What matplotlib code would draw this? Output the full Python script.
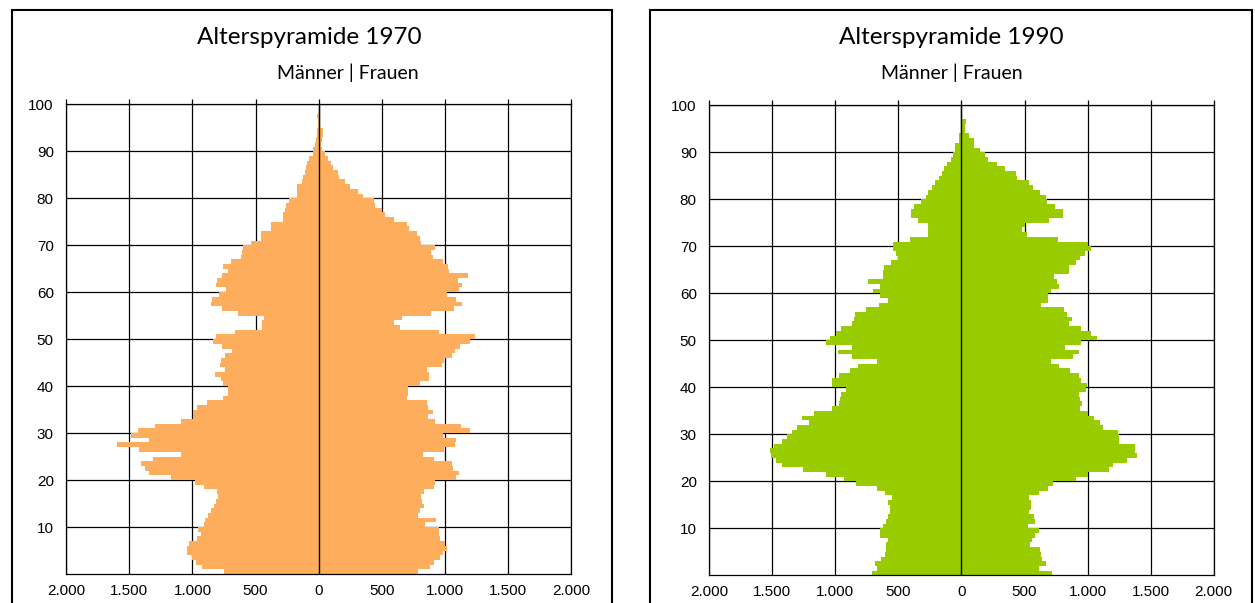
import numpy as np
import matplotlib
matplotlib.use("Agg")
import matplotlib.pyplot as plt
from matplotlib.patches import Rectangle

# Alter 0..99, Werte in Personen
ages = np.arange(100)

men_1970 = [753, 923, 976, 1003, 1045, 1040, 1029, 966, 929, 955,
            907, 897, 875, 854, 833, 817, 799, 807, 907, 981,
            1172, 1346, 1378, 1410, 1315, 1092, 1426, 1595, 1346, 1489,
            1431, 1299, 1087, 992, 992, 965, 882, 755, 718, 718,
            755, 776, 819, 745, 782, 776, 745, 683, 766, 840,
            813, 660, 447, 447, 437, 638, 766, 850, 845, 787,
            734, 813, 803, 766, 718, 761, 692, 616, 610, 600,
            540, 455, 455, 381, 381, 286, 286, 265, 259, 233,
            169, 169, 169, 132, 127, 106, 101, 90, 74, 48,
            48, 26, 21, 16, 11, 5, 5, 10, 0, 0]

women_1970 = [785, 886, 918, 960, 987, 1019, 1003, 960, 955, 950,
              844, 929, 791, 800, 838, 822, 812, 833, 918, 923,
              1087, 1114, 1061, 1055, 912, 828, 992, 1077, 1092, 987,
              1198, 1127, 924, 868, 910, 868, 857, 700, 712, 710,
              804, 876, 873, 862, 978, 990, 1055, 1080, 1118, 1200,
              1239, 955, 643, 596, 660, 891, 1070, 1134, 1086, 1015,
              1112, 1140, 1102, 1186, 1033, 1028, 982, 903, 893, 924,
              815, 805, 780, 715, 700, 600, 524, 503, 445, 439,
              349, 310, 249, 212, 164, 153, 116, 95, 74, 53,
              30, 20, 30, 37, 37, 10, 10, 10, 0, 0]

men_1990 = [711, 669, 685, 637, 606, 600, 600, 585, 648, 643,
            622, 600, 585, 564, 569, 585, 548, 606, 669, 838,
            928, 1078, 1255, 1421, 1470, 1511, 1519, 1487, 1423, 1385,
            1345, 1305, 1212, 1262, 1170, 1028, 970, 960, 955, 915,
            1024, 1024, 971, 886, 823, 669, 865, 976, 868, 1077,
            1039, 997, 955, 865, 849, 844, 759, 653, 585, 643,
            701, 648, 738, 622, 622, 616, 563, 500, 516, 542,
            542, 410, 267, 262, 267, 341, 400, 400, 373, 325,
            283, 262, 230, 209, 177, 151, 135, 114, 85, 69,
            53, 53, 21, 21, 5, 0, 0, 0, 0, 0]

women_1990 = [717, 611, 669, 637, 632, 622, 542, 558, 585, 616,
              526, 579, 574, 537, 553, 548, 532, 611, 685, 722,
              907, 1002, 1173, 1202, 1313, 1390, 1378, 1378, 1250, 1248,
              1238, 1124, 1100, 1048, 1004, 940, 959, 939, 928, 987,
              997, 950, 934, 860, 770, 706, 886, 934, 817, 950,
              1071, 1029, 950, 854, 876, 838, 812, 632, 685, 685,
              711, 770, 754, 733, 849, 849, 905, 937, 981, 1024,
              1002, 767, 521, 479, 505, 690, 808, 808, 739, 675,
              669, 621, 569, 537, 442, 431, 341, 283, 212, 183,
              146, 98, 98, 56, 25, 30, 34, 0, 0, 0]

xticks = [-2000, -1500, -1000, -500, 0, 500, 1000, 1500, 2000]
xlabels = ["2.000", "1.500", "1.000", "500", "0", "500", "1.000", "1.500", "2.000"]
yticks = [10, 20, 30, 40, 50, 60, 70, 80, 90, 100]

W, H = 1255, 603
fig = plt.figure(figsize=(W / 100, H / 100), dpi=100)


def pyramide(rect, men, women, color, title, title_x, sub_x):
    ax = fig.add_axes(rect)
    ax.barh(ages, [-m for m in men], height=1, align='edge', color=color, lw=0, zorder=2)
    ax.barh(ages, women, height=1, align='edge', color=color, lw=0, zorder=2)
    ax.axvline(0, color='black', lw=1.0, zorder=3)
    ax.set_xlim(-2000, 2000)
    ax.set_ylim(0, 100)
    ax.set_xticks(xticks)
    ax.set_xticklabels(xlabels)
    ax.set_yticks(yticks)
    ax.grid(True, color='black', lw=0.9)
    ax.set_axisbelow(True)
    for s in ax.spines.values():
        s.set_color('black')
        s.set_linewidth(0.9)
    ax.tick_params(axis='both', length=0, labelsize=11, colors='black')
    ax.tick_params(axis='x', pad=7)
    ax.tick_params(axis='y', pad=9)
    for lab in ax.get_xticklabels() + ax.get_yticklabels():
        lab.set_fontfamily('Liberation Sans')
    # kleine Striche oberhalb der 100-Linie
    ax.vlines(xticks, 1.0, 1.011, transform=ax.get_xaxis_transform(),
              colors='black', lw=0.9, clip_on=False)
    fig.text(title_x / W, 1 - 38 / H, title, ha='center', va='center',
             fontsize=17.5, family='Lato')
    fig.text(sub_x / W, 1 - 73 / H, "Männer | Frauen", ha='center', va='center',
             fontsize=14, family='Lato')
    return ax


pyramide([66.3 / W, 29 / H, 504.7 / W, 469.7 / H], men_1970, women_1970,
         '#FDAD5C', "Alterspyramide 1970", 309, 348)
pyramide([709.3 / W, 27.7 / H, 504.4 / W, 470 / H], men_1990, women_1990,
         '#99CC00', "Alterspyramide 1990", 951, 952)

# Rahmen um beide Diagramme
for x0, x1 in [(12, 612), (650, 1252)]:
    fig.add_artist(Rectangle((x0 / W, -0.1), (x1 - x0) / W, 0.1 + 1 - 10 / H,
                             transform=fig.transFigure, fill=False,
                             lw=1.5, ec='black'))

fig.savefig("out.png", dpi=100)
